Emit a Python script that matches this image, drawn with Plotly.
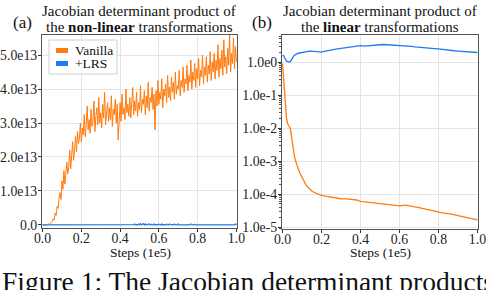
import numpy as np
import plotly.graph_objects as go

# ---------------- data ----------------
# (a) non-linear: steps (1e5) on a regular grid, values in units of 1e13
steps_a = [round(i * 0.005, 3) for i in range(201)]
vanilla_a = [
    0.00, 0.01, 0.00, 0.00, 0.02, 0.01, 0.03, 0.02, 0.04, 0.07,
    0.10, 0.18, 0.14, 0.35, 0.28, 0.55, 0.48, 0.80, 0.95, 0.75,
    1.30, 1.05, 1.60, 1.20, 1.45, 1.85, 1.50, 1.70, 2.20, 1.65,
    2.05, 2.45, 1.90, 2.30, 2.60, 2.15, 2.75, 2.40, 2.55, 3.00,
    2.45, 2.85, 2.65, 3.25, 2.60, 2.95, 3.50, 2.80, 3.10, 2.70,
    3.40, 2.90, 3.05, 3.65, 2.75, 3.20, 3.45, 2.95, 3.75, 3.00,
    3.30, 2.85, 3.55, 3.15, 3.90, 2.95, 3.35, 3.60, 3.05, 3.45,
    3.10, 3.80, 2.90, 3.40, 3.25, 3.70, 3.00, 3.55, 2.50, 3.35,
    3.60, 3.05, 3.85, 3.25, 3.45, 3.10, 4.00, 3.30, 3.55, 3.20,
    3.75, 3.15, 3.50, 4.05, 3.25, 3.65, 3.35, 3.90, 3.20, 3.60,
    3.40, 4.10, 3.30, 3.70, 3.55, 3.95, 3.25, 3.80, 3.45, 4.20,
    3.35, 3.75, 3.60, 4.05, 3.40, 3.85, 2.80, 3.95, 3.50, 4.25,
    3.55, 3.90, 3.70, 4.30, 3.45, 4.00, 3.80, 4.15, 3.60, 4.40,
    3.75, 4.05, 3.65, 4.35, 3.90, 4.20, 3.70, 4.50, 3.85, 4.10,
    4.00, 4.55, 3.80, 4.25, 4.05, 4.65, 3.90, 4.30, 4.15, 4.70,
    3.95, 4.40, 4.20, 4.85, 4.00, 4.50, 4.25, 4.75, 4.05, 4.60,
    4.30, 4.90, 4.10, 4.55, 4.35, 5.00, 4.15, 4.65, 4.40, 4.95,
    4.20, 4.70, 4.45, 5.10, 4.25, 4.80, 4.50, 5.05, 4.30, 4.85,
    4.55, 5.30, 4.35, 4.90, 4.60, 5.15, 4.40, 5.45, 4.65, 4.95,
    4.45, 5.20, 4.70, 5.60, 4.50, 5.05, 4.75, 5.50, 4.60, 5.25,
    4.80,
]
lrs_a = [0.0] * 90 + [
    0.01, 0.00, 0.02, 0.00, 0.01, 0.03, 0.00, 0.01, 0.00, 0.03,
    0.01, 0.04, 0.00, 0.02, 0.04, 0.00, 0.03, 0.00, 0.01, 0.00,
    0.03, 0.00, 0.02, 0.00, 0.00, 0.03, 0.00, 0.01, 0.00, 0.00,
    0.02, 0.00, 0.00, 0.03, 0.00, 0.01, 0.00, 0.00, 0.02, 0.00,
    0.00, 0.03, 0.00, 0.00, 0.01, 0.00, 0.02, 0.00, 0.00, 0.00,
    0.03, 0.00, 0.00, 0.01, 0.00, 0.00, 0.02, 0.00, 0.00, 0.00,
    0.01, 0.00, 0.00, 0.03, 0.00, 0.00, 0.00, 0.02, 0.00, 0.00,
    0.00, 0.01, 0.00, 0.00, 0.00, 0.02, 0.00, 0.00, 0.00, 0.01,
    0.00, 0.00, 0.02, 0.00, 0.00, 0.00, 0.01, 0.00, 0.00, 0.00,
    0.00, 0.00, 0.00, 0.00, 0.00, 0.00, 0.00, 0.00, 0.00, 0.00,
    0.00, 0.00, 0.00, 0.00, 0.00, 0.00, 0.00, 0.00, 0.00, 0.03,
    0.00,
]

# (b) linear
steps_b_lrs = [0.0, 0.005, 0.01, 0.02, 0.03, 0.04, 0.05, 0.06, 0.08, 0.10,
               0.12, 0.14, 0.16, 0.18, 0.20, 0.22, 0.24, 0.26, 0.28, 0.30,
               0.32, 0.34, 0.36, 0.38, 0.40, 0.42, 0.44, 0.46, 0.48, 0.50,
               0.52, 0.54, 0.56, 0.58, 0.60, 0.62, 0.64, 0.66, 0.68, 0.70,
               0.72, 0.74, 0.76, 0.78, 0.80, 0.82, 0.84, 0.86, 0.88, 0.90,
               0.92, 0.94, 0.96, 0.98, 1.00]
lrs_b = [1.55, 1.60, 1.35, 1.08, 1.00, 1.05, 1.30, 1.60, 1.85, 1.95,
         2.05, 2.15, 2.10, 2.05, 2.00, 2.15, 2.30, 2.40, 2.50, 2.60,
         2.70, 2.85, 2.95, 3.05, 3.15, 3.05, 3.15, 3.25, 3.30, 3.35,
         3.40, 3.35, 3.40, 3.35, 3.30, 3.20, 3.10, 3.00, 2.90, 2.80,
         2.75, 2.70, 2.60, 2.55, 2.50, 2.40, 2.30, 2.25, 2.20, 2.15,
         2.10, 2.05, 2.05, 2.00, 1.95]
steps_b_van = [0.0, 0.005, 0.01, 0.015, 0.02, 0.025, 0.03, 0.035, 0.04, 0.045,
               0.05, 0.055, 0.06, 0.065, 0.07, 0.08, 0.09, 0.10, 0.11, 0.12,
               0.13, 0.14, 0.15, 0.16, 0.18, 0.20, 0.22, 0.25, 0.28, 0.30,
               0.33, 0.36, 0.38, 0.40, 0.43, 0.46, 0.50, 0.55, 0.60, 0.63,
               0.66, 0.70, 0.74, 0.78, 0.82, 0.86, 0.90, 0.94, 0.97, 1.00]
vanilla_b = [0.9, 0.3, 0.1, 0.04, 0.02, 0.014, 0.012, 0.011, 0.0095, 0.006,
             0.0035, 0.0022, 0.0015, 0.0011, 0.00085, 0.00058, 0.00042, 0.00031, 0.00024, 0.00019,
             0.00016, 0.000138, 0.000123, 0.000113, 0.0001, 0.000091, 0.000086, 0.00008, 0.000074, 0.000072,
             0.000071, 0.000069, 0.000066, 0.00006, 0.000057, 0.000053, 0.00005, 0.000046, 0.000044, 0.000046,
             0.000043, 0.000039, 0.000034, 0.00003, 0.000027, 0.000025, 0.000022, 0.00002, 0.000018, 0.0000165]

x_ticks = [0.0, 0.2, 0.4, 0.6, 0.8, 1.0]
x_ticktext = ["0.0", "0.2", "0.4", "0.6", "0.8", "1.0"]
ya_ticks = [0, 1e13, 2e13, 3e13, 4e13, 5e13]
ya_ticktext = ["0.0", "1.0e13", "2.0e13", "3.0e13", "4.0e13", "5.0e13"]
yb_ticks = [1e0, 1e-1, 1e-2, 1e-3, 1e-4, 1e-5]
yb_ticktext = ["1.0e0", "1.0e-1", "1.0e-2", "1.0e-3", "1.0e-4", "1.0e-5"]

ORANGE = "#ff7b0d"
BLUE = "#1f7bf2"
FONT = "Liberation Serif, Times New Roman, serif"
W, H = 486, 290

def px(x):
    return x / W

def py(y):
    return 1 - y / H

fig = go.Figure()
fig.add_trace(go.Scatter(x=steps_a, y=[v * 1e13 for v in vanilla_a], mode="lines",
                         line=dict(color=ORANGE, width=1), xaxis="x", yaxis="y",
                         showlegend=False))
fig.add_trace(go.Scatter(x=steps_a, y=[v * 1e13 for v in lrs_a], mode="lines",
                         line=dict(color=BLUE, width=1.2), xaxis="x", yaxis="y",
                         showlegend=False))
fig.add_trace(go.Scatter(x=steps_b_lrs, y=lrs_b, mode="lines",
                         line=dict(color=BLUE, width=1.3), xaxis="x2", yaxis="y2",
                         showlegend=False))
fig.add_trace(go.Scatter(x=steps_b_van, y=vanilla_b, mode="lines",
                         line=dict(color=ORANGE, width=1.3), xaxis="x2", yaxis="y2",
                         showlegend=False))

axis_common = dict(showline=True, mirror=True, linecolor="#555", linewidth=1,
                   ticks="outside", ticklen=3, tickcolor="#333", automargin=False,
                   ticklabeloverflow="allow",
                   showgrid=True, gridcolor="#e4e4e4", gridwidth=1, zeroline=False,
                   tickfont=dict(family=FONT, size=13.8, color="#222"))

minor_vals = [m * 10.0 ** e for e in range(-6, 1) for m in range(2, 10)]

fig.update_layout(
    template="none",
    width=W, height=H, margin=dict(l=0, r=0, t=0, b=0, pad=0),
    paper_bgcolor="white", plot_bgcolor="white",
    font=dict(family=FONT),
    xaxis=dict(domain=[px(42), px(237)], range=[-0.003, 1.003], anchor="y",
               tickvals=x_ticks, ticktext=x_ticktext, ticklabelstandoff=-6, **axis_common),
    yaxis=dict(domain=[py(228), py(35)], range=[-0.09e13, 5.59e13], anchor="x",
               tickvals=ya_ticks, ticktext=ya_ticktext, ticklabelstandoff=-2, **axis_common),
    xaxis2=dict(domain=[px(282), px(478)], range=[-0.003, 1.003], anchor="y2",
                tickvals=x_ticks, ticktext=x_ticktext, ticklabelstandoff=-6, **axis_common),
    yaxis2=dict(domain=[py(229), py(35)], type="log", range=[-5.06, 0.82], anchor="x2",
                tickvals=yb_ticks, ticktext=yb_ticktext, ticklabelstandoff=-2,
                minor=dict(tickvals=minor_vals, ticks="outside", ticklen=2,
                           tickcolor="#555", showgrid=False),
                **axis_common),
)

ann = []
def text(x, y, t, size, xanchor="center", yanchor="middle"):
    ann.append(dict(xref="paper", yref="paper", x=px(x), y=py(y), text=t,
                    showarrow=False, xanchor=xanchor, yanchor=yanchor,
                    font=dict(family=FONT, size=size, color="#111")))

# titles
text(22, 22, "(a)", 17)
text(139, 11, "Jacobian determinant product of", 15)
text(139, 27, "the <b>non-linear</b> transformations", 15)
text(262, 22, "(b)", 17)
text(380, 11, "Jacobian determinant product of", 15)
text(380, 27, "the <b>linear</b> transformations", 15)
# axis titles
text(140, 252, "Steps (1e5)", 13.5)
text(380, 252, "Steps (1e5)", 13.5)
# caption
text(0, 281, "Figure 1: The Jacobian determinant products of", 27.5, xanchor="left")
# legend text
text(73, 50, "Vanilla", 13.5, xanchor="left")
text(73, 63, "+LRS", 13.5, xanchor="left")
fig.update_layout(annotations=ann)

shapes = [
    dict(type="rect", xref="paper", yref="paper", x0=px(49), x1=px(117), y0=py(74), y1=py(40),
         line=dict(color="#d0d0d0", width=1), fillcolor="rgba(255,255,255,0.85)", layer="above"),
    dict(type="rect", xref="paper", yref="paper", x0=px(56), x1=px(68), y0=py(53), y1=py(48),
         line=dict(width=0), fillcolor=ORANGE, layer="above"),
    dict(type="rect", xref="paper", yref="paper", x0=px(56), x1=px(68), y0=py(66), y1=py(61),
         line=dict(width=0), fillcolor=BLUE, layer="above"),
]
fig.update_layout(shapes=shapes)

fig.write_html("out.html", config={"displayModeBar": False},
               post_script="document.body.style.margin='0';document.body.style.overflow='hidden';")
